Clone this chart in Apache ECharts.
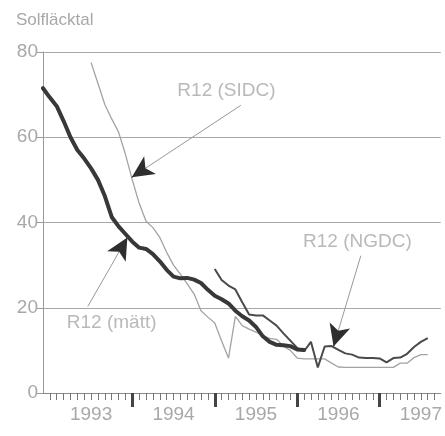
<!DOCTYPE html>
<html>
<head>
<meta charset="utf-8">
<script src="https://cdn.jsdelivr.net/npm/echarts@6/dist/echarts.min.js"></script>
<style>html,body{margin:0;padding:0;background:#fff}#c{width:445px;height:436px}</style>
</head>
<body>
<div id="c"></div>
<script>
// x values: months counted from January 1993 (0 = Jan 1993)
var yearLabels = ['1993', '1994', '1995', '1996', '1997'];
var yearCenters = [6, 18, 30, 42, 54];
var yearBounds = [12, 24, 36, 48];
var yTicks = [0, 20, 40, 60, 80];

// R12 (mätt) - thick line, monthly from month -1
var mattStart = -1;
var mattValues = [71.5, 69.3, 67.3, 63.8, 60.0, 57.0, 55.0, 52.7, 50.0, 46.2, 41.3, 39.1, 37.3, 35.5, 34.1, 33.8, 32.6, 30.9, 28.9, 27.3, 26.9, 27.0, 26.6, 25.8, 24.2, 22.8, 22.0, 21.0, 19.3, 18.0, 17.0, 15.5, 13.3, 12.0, 11.3, 11.2, 11.0, 10.2, 10.1];

// R12 (NGDC) - medium line, monthly from month 24
var ngdcStart = 24;
var ngdcValues = [29.1, 26.5, 25.2, 24.3, 21.3, 18.4, 18.2, 18.2, 17.0, 15.8, 14.0, 12.3, 10.6, 9.8, 12.0, 6.0, 10.9, 11.0, 10.1, 9.3, 9.0, 8.3, 8.2, 8.2, 8.1, 7.2, 8.2, 8.3, 9.2, 10.8, 12.0, 12.9];

// R12 (SIDC) - thin light line, monthly from month 6
var sidcStart = 6;
var sidcValues = [77.5, 72.6, 67.7, 64.3, 61.2, 56.0, 50.0, 44.5, 40.3, 38.8, 36.5, 33.0, 30.0, 27.9, 25.6, 23.2, 19.3, 17.8, 16.4, 12.2, 8.2, 18.0, 15.8, 15.0, 14.3, 13.4, 12.8, 12.6, 11.0, 10.0, 8.2, 8.0, 8.0, 8.0, 8.0, 7.0, 6.1, 6.0, 6.0, 6.0, 6.0, 6.0, 6.0, 6.0, 6.0, 7.0, 7.0, 8.3, 9.0, 9.0];

// annotations (data coordinates: [month, value])
var annoTexts = ['R12 (SIDC)', 'R12 (NGDC)', 'R12 (mätt)'];
var annoTextPos = [[25.7, 70.8], [44.76, 35.4], [9.0, 16.5]];
var annoArrowFrom = [[27.8, 67.5], [45.26, 32.2], [5.52, 20.3]];
var annoArrowTo = [[11.91, 50.6], [41.29, 10.9], [11.28, 36.5]];

function toPairs(start, vals) {
  return vals.map(function (v, i) { return [start + i, v]; });
}
var minorTicks = [];
for (var m = 0; m <= 56; m++) minorTicks.push(m);

var FONT = 'Liberation Sans';
var TXT = '#a8a8a8';

var lineData = [], headData = [];
for (var i = 0; i < annoArrowFrom.length; i++) {
  var f = annoArrowFrom[i], t = annoArrowTo[i];
  lineData.push([{ coord: f }, { coord: t }]);
  var k = 0.08;
  headData.push([{ coord: [t[0] + (f[0] - t[0]) * k, t[1] + (f[1] - t[1]) * k] }, { coord: t }]);
}

var chart = echarts.init(document.getElementById('c'), null, { renderer: 'canvas' });
chart.setOption({
  animation: false,
  backgroundColor: '#fff',
  title: {
    text: 'Solfläcktal', left: 11, top: 7,
    textStyle: { fontFamily: FONT, fontSize: 17, fontWeight: 'normal', color: TXT }
  },
  grid: { left: 43, right: 0, top: 52, bottom: 43, containLabel: false },
  xAxis: [{
    type: 'value', min: -1, max: 56.9,
    axisLine: { show: true, onZero: false, lineStyle: { color: '#8a8a8a', width: 1 } },
    axisTick: { show: true, customValues: minorTicks, length: 7, lineStyle: { color: '#777', width: 1 } },
    axisLabel: { show: false },
    splitLine: { show: false }
  }, {
    type: 'value', min: -1, max: 56.9, position: 'bottom', offset: 0,
    axisLine: { show: false, onZero: false },
    axisTick: { show: true, customValues: yearBounds, length: 14, lineStyle: { color: '#444', width: 3 } },
    axisLabel: {
      show: true, customValues: yearCenters, margin: 12,
      fontFamily: FONT, fontSize: 19, color: TXT,
      formatter: function (v) { return yearLabels[yearCenters.indexOf(v)]; }
    },
    splitLine: { show: false }
  }],
  yAxis: {
    type: 'value', min: 0, max: 80, interval: 20,
    axisLine: { show: true, onZero: false, lineStyle: { color: '#999', width: 1 } },
    axisTick: { show: true, length: 6, lineStyle: { color: '#999' } },
    axisLabel: { fontFamily: FONT, fontSize: 19, color: TXT, margin: 5,
      formatter: function (v) { return yTicks.indexOf(v) >= 0 ? String(v) : ''; } },
    splitLine: { show: true, lineStyle: { color: '#a8a8a8', width: 1 } }
  },
  series: [{
    name: 'R12 (SIDC)', type: 'line', data: toPairs(sidcStart, sidcValues),
    showSymbol: false, symbol: 'none', z: 2,
    lineStyle: { color: '#a3a3a3', width: 1.3 }
  }, {
    name: 'R12 (NGDC)', type: 'line', data: toPairs(ngdcStart, ngdcValues),
    showSymbol: false, symbol: 'none', z: 3,
    lineStyle: { color: '#4a4a4a', width: 2 }
  }, {
    name: 'R12 (mätt)', type: 'line', data: toPairs(mattStart, mattValues),
    showSymbol: false, symbol: 'none', z: 4,
    lineStyle: { color: '#383838', width: 4, join: 'round', cap: 'round' }
  }, {
    name: 'anno-lines', type: 'line', data: [], z: 5,
    markLine: {
      silent: true, symbol: ['none', 'none'], animation: false,
      lineStyle: { color: '#999', width: 1, type: 'solid' },
      label: { show: false },
      data: lineData
    }
  }, {
    name: 'anno-heads', type: 'line', data: [], z: 6,
    markLine: {
      silent: true, symbol: ['none', 'arrow'], symbolSize: [16, 22], animation: false,
      lineStyle: { color: '#2e2e2e', width: 1, type: 'solid' },
      label: { show: false },
      data: headData
    }
  }, {
    name: 'anno-text', type: 'scatter', z: 7, symbolSize: 0, silent: true,
    data: annoTextPos.map(function (p, i) { return { value: p, name: annoTexts[i] }; }),
    label: {
      show: true, position: 'inside', formatter: function (p) { return p.name; },
      fontFamily: FONT, fontSize: 19, color: TXT
    }
  }]
});
</script>
</body>
</html>
